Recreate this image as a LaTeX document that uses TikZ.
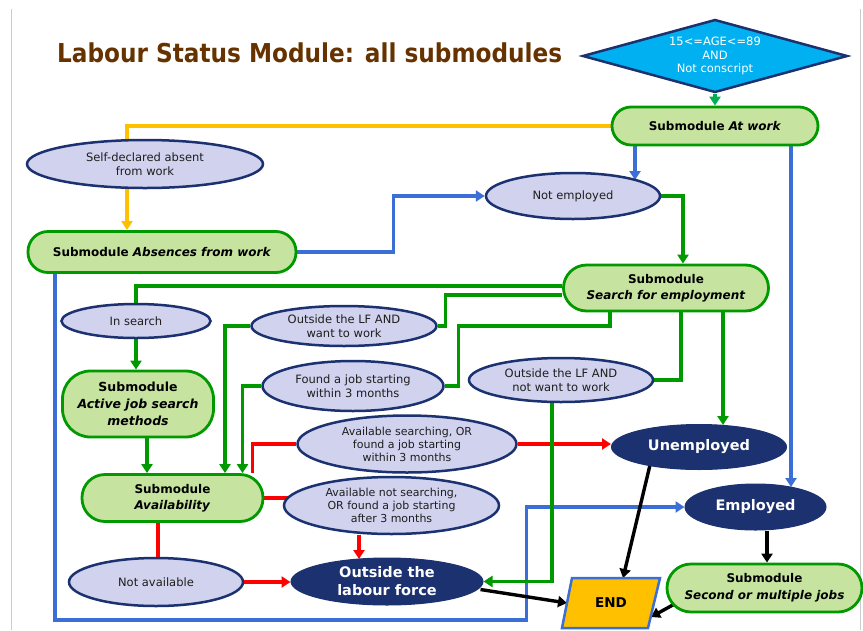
\documentclass[tikz,border=0pt]{standalone}
\usepackage{fontspec}
\setmainfont{DejaVu Sans}
\usetikzlibrary{shapes.geometric,arrows.meta}
\pgfdeclarelayer{bg}
\pgfdeclarelayer{edges}
\pgfsetlayers{bg,edges,main}
\definecolor{lgreen}{RGB}{198,227,160}
\definecolor{dgreen}{RGB}{0,153,0}
\definecolor{agreen}{RGB}{0,176,80}
\definecolor{lav}{RGB}{208,210,238}
\definecolor{navy}{RGB}{28,50,112}
\definecolor{lblue}{RGB}{59,111,214}
\definecolor{yel}{RGB}{255,192,0}
\definecolor{sky}{RGB}{0,176,240}
\definecolor{ttlbrown}{RGB}{102,51,0}
\definecolor{txtgray}{RGB}{30,30,30}
\tikzset{
  sub/.style={draw=dgreen, fill=lgreen, line width=2.8pt, align=center, inner sep=0pt,
    font=\fontsize{12}{16}\selectfont\bfseries, text=black},
  oval/.style={ellipse, draw=navy, fill=lav, line width=2.5pt, align=center, inner sep=0pt,
    font=\fontsize{11.5}{14}\selectfont, text=txtgray},
  dark/.style={ellipse, draw=navy, fill=navy, line width=1pt, text=white, align=center, inner sep=0pt,
    font=\fontsize{14.5}{18}\selectfont\bfseries},
  conn/.style={line width=3.4pt},
  gl/.style={conn, draw=dgreen},
  bl/.style={conn, draw=lblue},
  yl/.style={conn, draw=yel},
  rl/.style={conn, draw=red},
  kl/.style={conn, draw=black},
  tip/.style={-{Triangle[length=9pt,width=11pt]}},
}
\begin{document}
\begin{tikzpicture}[x=1pt,y=-1pt]
\useasboundingbox (0,0) rectangle (863,630);
\begin{pgfonlayer}{bg}
\fill[white] (0,0) rectangle (863,630);
\draw[black!20, line width=1pt] (11.5,9) -- (11.5,630);
\draw[black!20, line width=1pt] (860,9) -- (860,630);
\end{pgfonlayer}

% title
\node[anchor=base west, text=ttlbrown, inner sep=0pt, font=\fontsize{26}{26}\selectfont\bfseries] (title) at (57,62)
  {\resizebox{505pt}{\height}{Labour Status Module: all submodules}};

% nodes
\node[diamond, aspect=3.6, draw=navy, fill=sky, line width=2.5pt, minimum width=265pt, minimum height=73pt,
  inner sep=0pt, align=center, text=white, font=\fontsize{11.5}{13.5}\selectfont] (age) at (715,56)
  {15<=AGE<=89\\AND\\Not conscript};
\node[sub, minimum width=206pt, minimum height=38pt, rounded corners=19pt] (atwork) at (715,126)
  {Submodule \textit{At work}};
\node[oval, minimum width=236pt, minimum height=48pt] (selfdecl) at (145,164)
  {Self-declared absent\\from work};
\node[sub, minimum width=268pt, minimum height=41pt, rounded corners=20pt] (absence) at (162,252)
  {Submodule \textit{Absences from work}};
\node[oval, minimum width=174pt, minimum height=46pt] (notemp) at (573,196) {Not employed};
\node[sub, minimum width=205pt, minimum height=46pt, rounded corners=23pt] (search) at (666,288)
  {Submodule\\\textit{Search for employment}};
\node[oval, minimum width=149pt, minimum height=34pt] (insearch) at (136,321) {In search};
\node[oval, minimum width=185pt, minimum height=40pt] (outwant) at (344,326)
  {Outside the LF AND\\want to work};
\node[oval, minimum width=181pt, minimum height=50pt] (foundjob) at (353,386)
  {Found a job starting\\within 3 months};
\node[oval, minimum width=184pt, minimum height=44pt] (outnot) at (561,380)
  {Outside the LF AND\\not want to work};
\node[sub, minimum width=151pt, minimum height=66pt, rounded corners=28pt, font=\fontsize{12.5}{17}\selectfont\bfseries] (active) at (138,404)
  {Submodule\\\textit{Active job search}\\\textit{methods}};
\node[oval, minimum width=219pt, minimum height=57pt, font=\fontsize{11}{13}\selectfont] (availsearch) at (407,444)
  {Available searching, OR\\found a job starting\\within 3 months};
\node[sub, minimum width=181pt, minimum height=47pt, rounded corners=23pt] (avail) at (172.5,498)
  {Submodule\\\textit{Availability}};
\node[oval, minimum width=215pt, minimum height=57pt, font=\fontsize{11}{13}\selectfont] (availnot) at (391.5,505.5)
  {Available not searching,\\OR found a job starting\\after 3 months};
\node[oval, minimum width=174pt, minimum height=48pt] (notavail) at (156,582) {Not available};
\node[dark, minimum width=192pt, minimum height=47pt] (outside) at (387,581.5)
  {Outside the\\labour force};
\node[dark, minimum width=175pt, minimum height=45pt] (unemp) at (699,447) {Unemployed};
\node[dark, minimum width=141pt, minimum height=46pt] (emp) at (755.5,507) {Employed};
\node[sub, minimum width=195pt, minimum height=48pt, rounded corners=24pt, font=\fontsize{12}{17}\selectfont\bfseries] (second) at (764.5,588)
  {Submodule\\\textit{Second or multiple jobs}};

% END parallelogram
\coordinate (endc) at (611,603);
\draw[fill=yel, draw=lblue, line width=2.5pt, line join=miter]
  ([shift={(-39,-25)}]endc) -- ([shift={(49,-25)}]endc) -- ([shift={(37,25)}]endc) -- ([shift={(-49,25)}]endc) -- cycle;
\node[font=\fontsize{13.5}{13.5}\selectfont\bfseries, inner sep=0pt] (end) at (endc) {END};
\coordinate (endT) at ([shift={(12,-25)}]endc);
\coordinate (endL) at ([shift={(-44,0)}]endc);
\coordinate (endR) at ([shift={(40,14)}]endc);

\begin{pgfonlayer}{edges}
% yellow
\draw[yl, tip] (atwork.west) -| ([shift={(-35,0)}]absence.north);
% blue
\draw[bl, tip] ([shift={(-80,0)}]atwork.south) -- ([shift={(62,-16)}]notemp.center);
\draw[bl, tip] ([shift={(76,0)}]atwork.south) -- ([shift={(35.5,-20)}]emp.center);
\draw[bl, tip] (absence.east) -- ++(96,0) |- (notemp.west);
\draw[bl, tip] ([shift={(-107,0)}]absence.south) |- ([shift={(-158,113)}]emp.west) |- (emp.west);
% red
\draw[rl] ([shift={(80,0)}]avail.north) |- (availsearch.west);
\draw[rl, tip] (availsearch.east) -- (availsearch.east -| unemp.west);
\draw[rl] (avail.east) -- ([shift={(-103.7,-7.5)}]availnot.center);
\draw[rl, tip] ([shift={(-32.5,0)}]availnot.south) -- ([shift={(-28,-22.5)}]outside.center);
\draw[rl] ([shift={(-14.5,0)}]avail.south) -- ([shift={(2,0)}]notavail.north);
\draw[rl, tip] (notavail.east) -- (notavail.east -| outside.west);
% green
\draw[conn, draw=agreen, tip] (age.south) -- (atwork.north);
\draw[gl, tip] (notemp.east) -| ([shift={(17,0)}]search.north);
\draw[gl] ([shift={(0,-2)}]search.west) -| (insearch.north);
\draw[gl] ([shift={(0,7)}]search.west) -| ([shift={(7.5,0)}]outwant.east) -- (outwant.east);
\draw[gl, tip] (outwant.west) -| ([shift={(52.5,0)}]avail.north);
\draw[gl] ([shift={(-56,0)}]search.south) |- ([shift={(13.5,-60)}]foundjob.east) |- (foundjob.east);
\draw[gl, tip] (foundjob.west) -| ([shift={(70,0)}]avail.north);
\draw[gl] ([shift={(15,0)}]search.south) |- (outnot.east);
\draw[gl, tip] ([shift={(-9,0)}]outnot.south) |- (outside.east);
\draw[gl, tip] ([shift={(57,0)}]search.south) -- ([shift={(24,-22)}]unemp.center);
\draw[gl, tip] (insearch.south) -- (insearch.south |- active.north);
\draw[gl, tip] ([shift={(9,0)}]active.south) -- ([shift={(-25.5,0)}]avail.north);
% black
\draw[kl, tip] ([shift={(-49,18)}]unemp.center) -- (endT);
\draw[kl, tip] ([shift={(-3,8)}]outside.east) -- (endL);
\draw[kl, tip] ([shift={(11.5,0)}]emp.south) -- ([shift={(2.5,0)}]second.north);
\draw[kl, tip] ([shift={(9,16)}]second.west) -- (endR);
\end{pgfonlayer}
\end{tikzpicture}
\end{document}
